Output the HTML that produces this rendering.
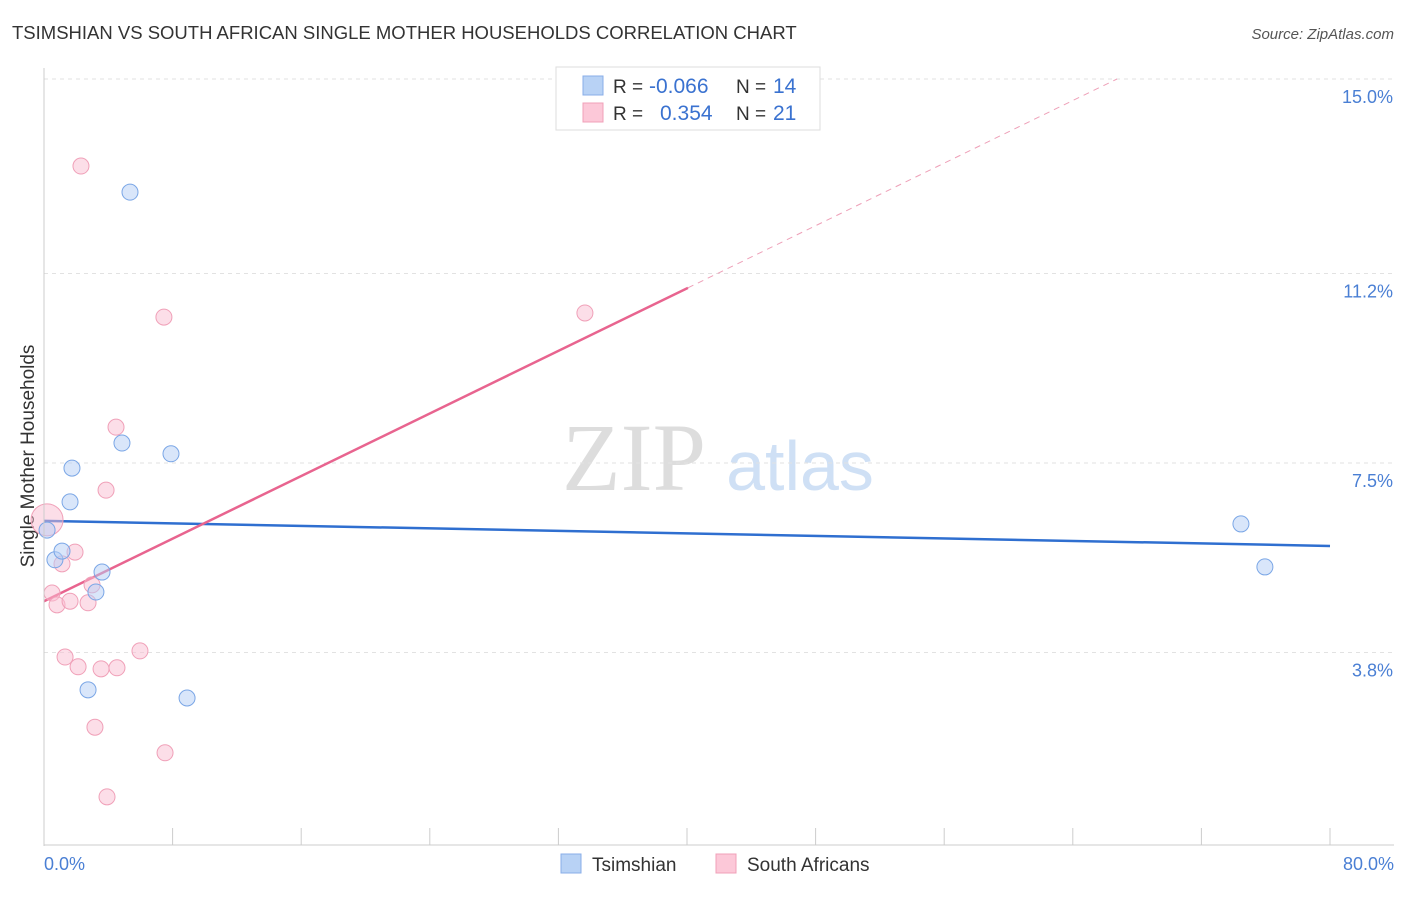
<!DOCTYPE html>
<html><head><meta charset="utf-8"><style>
body{margin:0;background:#fff;font-family:"Liberation Sans",sans-serif;}
</style></head><body>
<svg id="c" width="1406" height="892" xmlns="http://www.w3.org/2000/svg">
<text x="12" y="39" font-size="18.5" fill="#333">TSIMSHIAN VS SOUTH AFRICAN SINGLE MOTHER HOUSEHOLDS CORRELATION CHART</text>
<text x="1394" y="39" font-size="15" fill="#555" text-anchor="end" font-style="italic">Source: ZipAtlas.com</text>
<text x="634" y="490" font-size="96" fill="#ddd" font-family="Liberation Serif,serif" text-anchor="middle">ZIP</text>
<text x="800" y="490" font-size="70" fill="#cfe0f5" text-anchor="middle">atlas</text>
<text transform="translate(34,456) rotate(-90)" font-size="19" fill="#333" text-anchor="middle">Single Mother Households</text>
<g id="grid"></g><g id="lines"></g><g id="pts"></g>
<line x1="44" y1="68" x2="44" y2="846" stroke="#ccc"/>
<line x1="44" y1="845" x2="1394" y2="845" stroke="#ccc"/>
<text x="44" y="870" font-size="18" fill="#4a7fd4">0.0%</text>
<text x="1394" y="870" font-size="18" fill="#4a7fd4" text-anchor="end">80.0%</text>
<g>
<rect x="556" y="67" width="264" height="63" fill="#fff" stroke="#ddd"/>
<rect x="583" y="76" width="20" height="19" fill="#b8d2f5" stroke="#88aee8"/>
<rect x="583" y="103" width="20" height="19" fill="#fcc8d8" stroke="#f0a0b8"/>
<text x="613" y="93" font-size="19" fill="#333">R =<tspan x="649" fill="#3a72d0" font-size="21">-0.066</tspan><tspan x="736">N =</tspan><tspan x="773" fill="#3a72d0" font-size="21">14</tspan></text>
<text x="613" y="120" font-size="19" fill="#333">R =<tspan x="660" fill="#3a72d0" font-size="21">0.354</tspan><tspan x="736">N =</tspan><tspan x="773" fill="#3a72d0" font-size="21">21</tspan></text>
</g>
<g>
<rect x="561" y="854" width="20" height="19" fill="#b8d2f5" stroke="#88aee8"/>
<text x="592" y="871" font-size="19" fill="#333">Tsimshian</text>
<rect x="716" y="854" width="20" height="19" fill="#fcc8d8" stroke="#f0a0b8"/>
<text x="747" y="871" font-size="19" fill="#333">South Africans</text>
</g>
</svg>
<script>
const yTicks=[3.8,7.5,11.2,15.0];
const yTickLabels=["3.8%","7.5%","11.2%","15.0%"];
const xTicks=[0,8,16,24,32,40,48,56,64,72,80];
const tsimX=[0.19,0.68,1.12,1.62,1.74,2.74,3.23,3.61,4.85,5.35,7.9,8.9,74.46,75.95];
const tsimY=[6.19,5.61,5.78,6.74,7.40,3.07,4.98,5.37,7.89,12.79,7.68,2.91,6.31,5.47];
const safX=[0.19,0.5,0.81,1.12,1.31,1.62,1.93,2.12,2.3,2.74,2.99,3.17,3.55,3.86,3.92,4.48,4.54,5.97,7.46,7.53,33.65];
const safY=[6.39,4.96,4.73,5.53,3.71,4.80,5.76,3.52,13.30,4.77,5.12,2.34,3.48,6.97,0.98,8.20,3.50,3.83,10.35,1.84,10.43];
const tsimLine=[6.37,5.88];
const safLine=[4.80,0.1528];
const X=v=>44+v*16.075, Y=v=>847-v*51.2;
const NS="http://www.w3.org/2000/svg";
function mk(p,t,a){const e=document.createElementNS(NS,t);for(const k in a)e.setAttribute(k,a[k]);p.appendChild(e);return e;}
const g=document.getElementById('grid');
yTicks.forEach((t,i)=>{
 const l=mk(g,'line',{x1:44,x2:1394,y1:Y(t),y2:Y(t),stroke:'#e2e2e2','stroke-dasharray':'4,4'});
 
 
 const tx=mk(g,'text',{x:1393,y:Y(t)+24,'font-size':18,fill:'#4a7fd4','text-anchor':'end'});
 tx.textContent=yTickLabels[i];
 
 
});
xTicks.forEach(t=>{
 const l=mk(g,'line',{x1:X(t),x2:X(t),y1:828,y2:845,stroke:'#ccc'});
 
 
});
const L=document.getElementById('lines');
let b=mk(L,'line',{x1:X(0),y1:Y(tsimLine[0]),x2:X(80),y2:Y(tsimLine[1]),stroke:'#2f6fd0','stroke-width':2.5});


const xe=40.06, xd=(15-safLine[0])/safLine[1];
let p=mk(L,'line',{x1:X(0),y1:Y(safLine[0]),x2:X(xe),y2:Y(safLine[0]+safLine[1]*xe),stroke:'#e8648f','stroke-width':2.5});


let pd=mk(L,'line',{x1:X(xe),y1:Y(safLine[0]+safLine[1]*xe),x2:X(xd),y2:Y(15),stroke:'#eea0b8','stroke-width':1,'stroke-dasharray':'6,5'});


const P=document.getElementById('pts');
safX.forEach((x,i)=>{
 const c=mk(P,'circle',{cx:X(x),cy:Y(safY[i]),r:i===0?16:8,fill:'rgba(250,190,210,0.5)',stroke:'#f0a0b8','stroke-width':1});
 
 
});
tsimX.forEach((x,i)=>{
 const c=mk(P,'circle',{cx:X(x),cy:Y(tsimY[i]),r:8,fill:'rgba(180,205,245,0.5)',stroke:'#7aa6e6','stroke-width':1});
 
 
});
</script>
</body></html>
